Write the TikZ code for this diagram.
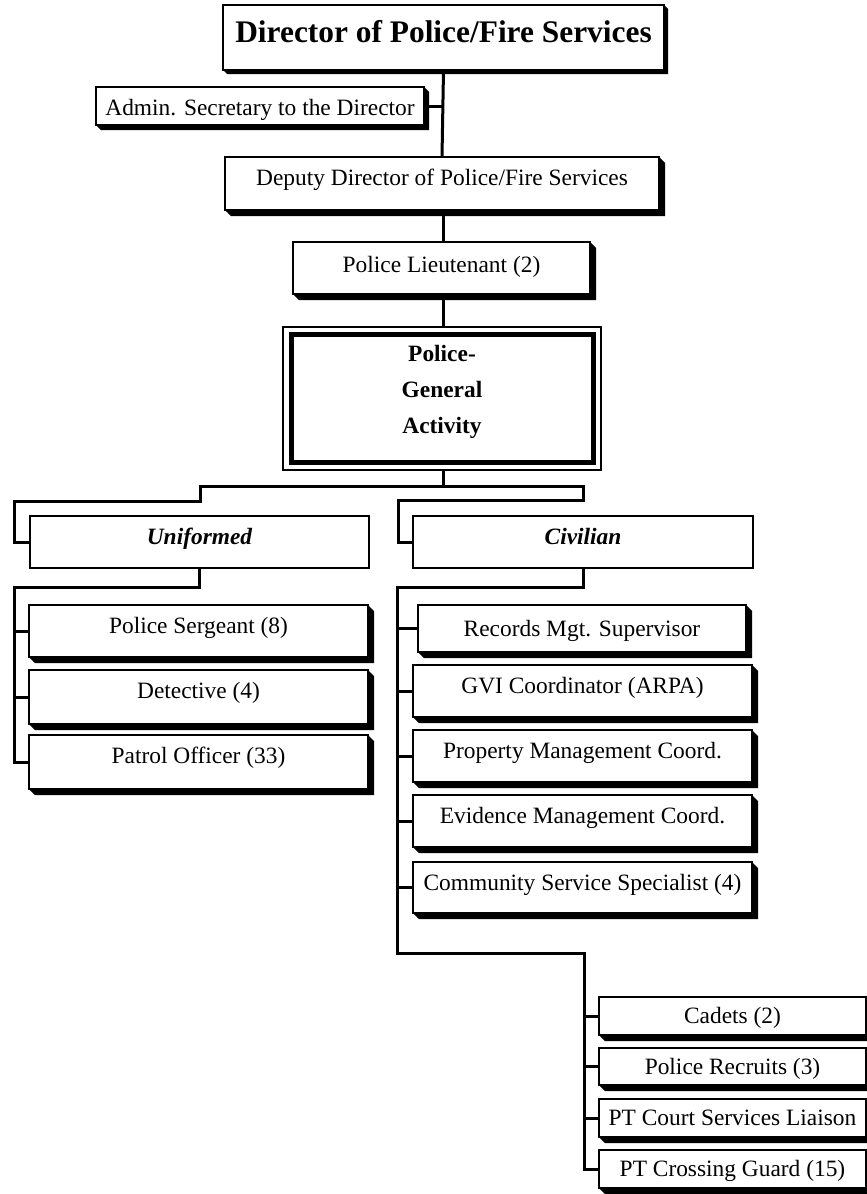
\documentclass[tikz,border=0pt]{standalone}
\usepackage{fontspec}
\setmainfont{Liberation Serif}
\tikzset{
  box/.style={draw, line width=2pt, fill=white, inner sep=0pt, outer sep=0pt,
    anchor=north west, font=\fontsize{23.4}{28}\selectfont},
  tall/.style={text height=28pt, text depth=24pt},
  short/.style={text height=26pt, text depth=12pt},
  conn/.style={line width=3pt},
}
\newcommand\boxshadow[2]{\fill (#1.north east) -- ++(#2,#2) -- ([shift={(#2,#2)}]#1.south east) -- ([shift={(#2,#2)}]#1.south west) -- (#1.south west) -- (#1.south east) -- cycle;}
\begin{document}
\begin{tikzpicture}[x=1pt,y=-1pt]
\useasboundingbox (0,0) rectangle (867,1194);
% top chain
\node[box, minimum width=441pt, text height=37pt, text depth=28pt, font=\fontsize{31.4}{36}\selectfont\bfseries] (dir) at (223,5) {Director of Police/Fire Services};
\boxshadow{dir}{4}
\node[box, minimum width=328pt, text height=28pt, text depth=10pt] (admin) at (96,87) {Admin. Secretary to the Director};
\boxshadow{admin}{5}
\node[box, minimum width=434pt, text height=28pt, text depth=25pt] (dep) at (225,157) {Deputy Director of Police/Fire Services};
\boxshadow{dep}{6}
\node[box, minimum width=297pt, text height=30pt, text depth=22pt] (lt) at (293,242) {Police Lieutenant (2)};
\boxshadow{lt}{6}
\node[draw, line width=2pt, fill=white, inner sep=0pt, outer sep=0pt, anchor=north west, minimum width=318pt, minimum height=143pt] (pga) at (283,327) {};
\draw[line width=5pt] ([shift={(8,7)}]pga.north west) rectangle ([shift={(-8,-8)}]pga.south east);
\node[font=\fontsize{23.4}{36}\selectfont\bfseries, align=center] (pgat) at (442,392) {Police-\\General\\Activity};

\draw[conn] (dir.south) -- (dep.north);
\draw[conn] (admin.east) -- (admin.east -| dir.south);
\draw[conn] (dep.south -| dir.south) -- (lt.north -| dir.south);
\draw[conn] (lt.south -| dir.south) -- (pga.north -| dir.south);

% branches
\node[box, minimum width=339pt, tall, font=\fontsize{23.4}{28}\selectfont\bfseries\itshape] (uni) at (30,516) {Uniformed};
\node[box, minimum width=340pt, tall, font=\fontsize{23.4}{28}\selectfont\bfseries\itshape] (civ) at (413,516) {Civilian};
\coordinate (busL) at (200,486);
\coordinate (busR) at (583,486);
\coordinate (jogL) at (200,501);
\coordinate (jogR) at (583,500);
\draw[conn] (pga.south -| dir.south) -- (busL -| dir.south);
\draw[conn] (uni.west) -- ++(-16,0) |- (jogL) -- (busL) -- (busR) -- (jogR) -| ([xshift=-15]civ.west) -- (civ.west);

% uniformed
\node[box, minimum width=339pt, tall] (sgt) at (29,605) {Police Sergeant (8)};
\boxshadow{sgt}{6}
\node[box, minimum width=339pt, text height=28pt, text depth=26pt] (det) at (29,670) {Detective (4)};
\boxshadow{det}{6}
\node[box, minimum width=339pt, text height=28pt, text depth=26pt] (pat) at (29,735) {Patrol Officer (33)};
\boxshadow{pat}{6}
\draw[conn] (uni.south) -- ++(0,19) -| ([xshift=-15]pat.west) -- (pat.west);
\draw[conn] (sgt.west) -- ++(-15,0);
\draw[conn] (det.west) -- ++(-15,0);

% civilian
\node[box, minimum width=328pt, text height=31pt, text depth=16pt] (rec) at (418,605) {Records Mgt. Supervisor};
\boxshadow{rec}{6}
\node[box, minimum width=339pt, tall] (gvi) at (413,665) {GVI Coordinator (ARPA)};
\boxshadow{gvi}{6}
\node[box, minimum width=339pt, tall] (prop) at (413,730) {Property Management Coord.};
\boxshadow{prop}{6}
\node[box, minimum width=339pt, tall] (evid) at (413,795) {Evidence Management Coord.};
\boxshadow{evid}{6}
\node[box, minimum width=339pt, text height=28pt, text depth=23pt] (comm) at (413,862) {Community Service Specialist (4)};
\boxshadow{comm}{6}

\node[box, minimum width=267pt, short] (cad) at (599,997) {Cadets (2)};
\boxshadow{cad}{6}
\node[box, minimum width=267pt, text height=26pt, text depth=11pt] (rcr) at (599,1048) {Police Recruits (3)};
\boxshadow{rcr}{6}
\node[box, minimum width=267pt, short] (court) at (599,1099) {PT Court Services Liaison};
\boxshadow{court}{6}
\node[box, minimum width=267pt, short] (cross) at (599,1150) {PT Crossing Guard (15)};
\boxshadow{cross}{6}

\coordinate (civbend) at (397,953);
\draw[conn] (civ.south) -- ++(0,19) -| (civbend) -| ([xshift=-15]cross.west) -- (cross.west);
\foreach \n in {rec,gvi,prop,evid,comm} {\draw[conn] (\n.west) -- (\n.west -| civbend);}
\foreach \n in {cad,rcr,court} {\draw[conn] (\n.west) -- ++(-15,0);}
\end{tikzpicture}
\end{document}
